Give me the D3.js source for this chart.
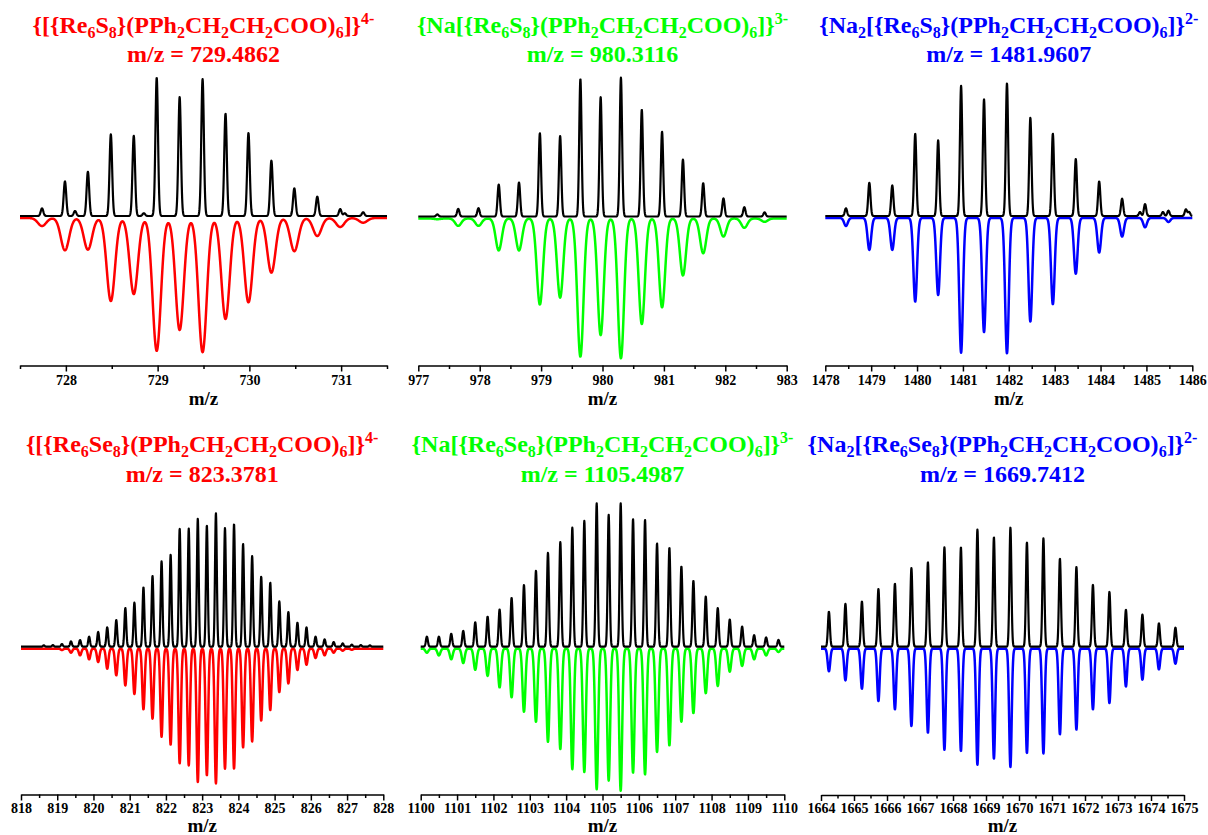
<!DOCTYPE html>
<html>
<head>
<meta charset="utf-8">
<script src="https://cdn.jsdelivr.net/npm/d3@7/dist/d3.min.js"></script>
<style>
  html, body { margin: 0; padding: 0; background: #fff; }
  svg { display: block; }
  text { font-family: "Liberation Serif", "Times New Roman", serif; font-weight: bold; }
</style>
</head>
<body>
<svg id="chart" width="1208" height="835"></svg>
<script>
// ---------------- DATA ----------------
const titles = [
  "{[{Re_6S_8}(PPh_2CH_2CH_2COO)_6]}^4-",
  "{Na[{Re_6S_8}(PPh_2CH_2CH_2COO)_6]}^3-",
  "{Na_2[{Re_6S_8}(PPh_2CH_2CH_2COO)_6]}^2-",
  "{[{Re_6Se_8}(PPh_2CH_2CH_2COO)_6]}^4-",
  "{Na[{Re_6Se_8}(PPh_2CH_2CH_2COO)_6]}^3-",
  "{Na_2[{Re_6Se_8}(PPh_2CH_2CH_2COO)_6]}^2-"
];
const mzLabels = ["m/z = 729.4862", "m/z = 980.3116", "m/z = 1481.9607",
                  "m/z = 823.3781", "m/z = 1105.4987", "m/z = 1669.7412"];
const axisTitle = "m/z";

// Panel 1: {[{Re6S8}(...)6]}4-
const s4ExpMz = [727.74, 727.99, 728.10, 728.24, 728.49, 728.74, 728.85, 728.99, 729.24, 729.49, 729.74, 729.99, 730.24, 730.49, 730.74, 730.99, 731.04, 731.24];
const s4Exp   = [5.5, 25, 3.6, 32, 59, 58, 2, 100, 86, 99, 74, 60, 40, 20, 14, 5, 2, 2.7];
const s4SimMz = [727.74, 727.99, 728.24, 728.49, 728.74, 728.99, 729.24, 729.49, 729.74, 729.99, 730.24, 730.49, 730.74, 730.99, 731.24];
const s4Sim   = [5.8, 23.4, 22.9, 60, 55, 96, 81, 97, 73, 61, 39.5, 24, 13, 6.5, 3.4];

// Panel 2: {Na[{Re6S8}(...)6]}3-
const s3Mz  = [977.31, 977.65, 977.98, 978.31, 978.64, 978.98, 979.31, 979.64, 979.97, 980.30, 980.64, 980.97, 981.31, 981.64, 981.97, 982.31, 982.64];
const s3Exp = [1.5, 5.5, 6, 23, 24.5, 60, 58, 99, 86, 100, 77, 61, 41, 24, 13, 6.7, 3];
const s3Sim = [0.5, 5.3, 5.3, 23, 23, 62, 57, 99.5, 84, 100.7, 76, 64, 41, 25, 13, 6.7, 2.4];

// Panel 3: {Na2[{Re6S8}(...)6]}2-
const s2ExpMz = [1478.45, 1478.96, 1479.46, 1479.96, 1480.46, 1480.96, 1481.46, 1481.96, 1482.47, 1482.96, 1483.46, 1483.97, 1484.47, 1484.86, 1484.97, 1485.36, 1485.48, 1485.86, 1485.93];
const s2Exp   = [5.8, 25, 23, 62, 57, 98, 88, 100, 74, 62, 43, 26, 13, 3, 9, 3, 4, 5, 3];
const s2SimMz = [1478.45, 1478.96, 1479.46, 1479.96, 1480.46, 1480.96, 1481.46, 1481.96, 1482.47, 1482.96, 1483.46, 1483.97, 1484.47, 1484.97, 1485.48];
const s2Sim   = [6, 24, 24, 63, 58, 101.5, 86, 102, 78, 65, 42, 26, 14, 7, 3];

// Panel 4: {[{Re6Se8}(...)6]}4-
const se4Mz  = [818.63, 818.88, 819.13, 819.38, 819.63, 819.88, 820.13, 820.38, 820.63, 820.88, 821.13, 821.38, 821.63, 821.88, 822.13, 822.38, 822.63, 822.88, 823.13, 823.38, 823.63, 823.88, 824.13, 824.38, 824.63, 824.88, 825.13, 825.38, 825.63, 825.88, 826.13, 826.38, 826.63, 826.88, 827.13, 827.38, 827.63];
const se4Exp = [1, 1.2, 2, 4, 5, 7.5, 11, 14.5, 20, 29, 33, 44.5, 53, 64, 69, 88.5, 88.5, 96, 91, 100, 89, 92, 77, 68, 52.5, 48, 34, 26, 18, 14.5, 7.5, 5.5, 3.5, 2.5, 1.5, 1.2, 1];
const se4Sim = [0, 0, 1, 3, 5, 8, 10, 15, 20, 27.5, 34, 45.5, 52.5, 66, 72, 86, 87.5, 100, 95, 101, 90, 90, 74, 69.5, 54, 46, 32.5, 26, 16, 12, 7, 5, 3, 1.5, 0.8, 0, 0];

// Panel 5: {Na[{Re6Se8}(...)6]}3-
const se3Mz  = [1100.17, 1100.50, 1100.84, 1101.17, 1101.50, 1101.84, 1102.17, 1102.50, 1102.84, 1103.17, 1103.50, 1103.84, 1104.17, 1104.50, 1104.84, 1105.17, 1105.50, 1105.84, 1106.17, 1106.50, 1106.84, 1107.17, 1107.50, 1107.84, 1108.17, 1108.50, 1108.84, 1109.17, 1109.50, 1109.84];
const se3Exp = [7, 7, 9, 11, 17, 21, 26, 34, 43, 53, 65.5, 73, 83, 87.7, 100, 92, 100, 89, 88.5, 72, 69, 56, 46, 35, 27, 19, 14, 8, 6.5, 4.7];
const se3Sim = [2.8, 4.7, 7.4, 10, 14.7, 19, 27, 34, 44, 51, 65, 70, 84, 86, 98, 92, 99, 86.5, 87.7, 72, 67.5, 51, 45, 31, 26, 16, 12, 7.4, 4.7, 2.3];

// Panel 6: {Na2[{Re6Se8}(...)6]}2-
const se2Mz  = [1664.24, 1664.74, 1665.24, 1665.74, 1666.24, 1666.74, 1667.24, 1667.74, 1668.24, 1668.74, 1669.24, 1669.74, 1670.24, 1670.74, 1671.24, 1671.74, 1672.24, 1672.74, 1673.24, 1673.74, 1674.24, 1674.74];
const se2Exp = [29.4, 36, 38, 48.5, 53, 66, 71, 83.5, 83.5, 98.5, 92, 100, 87.7, 91, 74, 67, 52, 46, 31, 27, 19.6, 16];
const se2Sim = [19, 26.6, 33.6, 44, 51, 65, 70.6, 85, 86, 97.5, 92.4, 99.4, 87.7, 88, 72, 68, 51, 45.6, 31.7, 26, 17.4, 12.6];

// x domains and tick values
const domains = [[727.5, 731.5], [977, 983], [1478, 1486], [818, 828], [1100, 1110], [1664, 1675]];
const majorTicks = [
  [728, 729, 730, 731],
  [977, 978, 979, 980, 981, 982, 983],
  [1478, 1479, 1480, 1481, 1482, 1483, 1484, 1485, 1486],
  [818, 819, 820, 821, 822, 823, 824, 825, 826, 827, 828],
  [1100, 1101, 1102, 1103, 1104, 1105, 1106, 1107, 1108, 1109, 1110],
  [1664, 1665, 1666, 1667, 1668, 1669, 1670, 1671, 1672, 1673, 1674, 1675]
];
const minorTicks = [
  [727.5, 728.5, 729.5, 730.5, 731.5],
  [977.5, 978.5, 979.5, 980.5, 981.5, 982.5],
  [1478.5, 1479.5, 1480.5, 1481.5, 1482.5, 1483.5, 1484.5, 1485.5],
  [818.5, 819.5, 820.5, 821.5, 822.5, 823.5, 824.5, 825.5, 826.5, 827.5],
  [1100.5, 1101.5, 1102.5, 1103.5, 1104.5, 1105.5, 1106.5, 1107.5, 1108.5, 1109.5],
  [1664.5, 1665.5, 1666.5, 1667.5, 1668.5, 1669.5, 1670.5, 1671.5, 1672.5, 1673.5, 1674.5]
];

const expSeries = [[s4ExpMz, s4Exp], [s3Mz, s3Exp], [s2ExpMz, s2Exp], [se4Mz, se4Exp], [se3Mz, se3Exp], [se2Mz, se2Exp]];
const simSeries = [[s4SimMz, s4Sim], [s3Mz, s3Sim], [s2SimMz, s2Sim], [se4Mz, se4Sim], [se3Mz, se3Sim], [se2Mz, se2Sim]];
const colors = ["#ff0000", "#00ff00", "#0000ff", "#ff0000", "#00ff00", "#0000ff"];

// ---------------- LAYOUT ----------------
const layout = [
  {x0: 20,    x1: 387,    axisY: 365.5, base: 216,   top: 77.7,  t1: 33,  t2: 62,  lab: 405, pad: 4, sExp: 0.014, sSim: 0.045},
  {x0: 418.3, x1: 786.7,  axisY: 365.5, base: 216.5, top: 77.7,  t1: 33,  t2: 62,  lab: 405, pad: 4, sExp: 0.019, sSim: 0.05},
  {x0: 825.3, x1: 1192.3, axisY: 365.5, base: 216,   top: 83.3,  t1: 33,  t2: 62,  lab: 405, pad: 4, sExp: 0.025, sSim: 0.04},
  {x0: 21,    x1: 383.3,  axisY: 794.5, base: 646.7, top: 513.3, t1: 452, t2: 482, lab: 832, pad: 2.5, sExp: 0.025, sSim: 0.034},
  {x0: 420.7, x1: 784.3,  axisY: 794.5, base: 646.7, top: 503.3, t1: 452, t2: 482, lab: 832, pad: 2.5, sExp: 0.027, sSim: 0.04},
  {x0: 821,   x1: 1184,   axisY: 795,   base: 646.7, top: 527.7, t1: 452, t2: 482, lab: 832, pad: 2.5, sExp: 0.03,  sSim: 0.038}
];

const svg = d3.select("#chart");

function profile(mzs, hs, sigma, x) {
  let s = 0;
  for (let i = 0; i < mzs.length; i++) {
    const d = x - mzs[i];
    if (Math.abs(d) < 8 * sigma) s += hs[i] * Math.exp(-d * d / (2 * sigma * sigma));
  }
  return s;
}

// parse "_x" = subscript char, "^..." = superscript rest
function drawTitle(g, str, cx, y, color) {
  const t = g.append("text").attr("x", cx).attr("y", y).attr("text-anchor", "middle")
    .attr("fill", color).style("font-size", "24px");
  const segs = [];
  let i = 0, buf = "";
  while (i < str.length) {
    const c = str[i];
    if (c === "_") {
      if (buf) { segs.push([buf, "n"]); buf = ""; }
      segs.push([str[i + 1], "sub"]); i += 2;
    } else if (c === "^") {
      if (buf) { segs.push([buf, "n"]); buf = ""; }
      segs.push([str.slice(i + 1), "sup"]); i = str.length;
    } else { buf += c; i++; }
  }
  if (buf) segs.push([buf, "n"]);
  let cur = 0;
  segs.forEach(([txt, type]) => {
    const target = type === "sub" ? 5 : type === "sup" ? -9 : 0;
    const ts = t.append("tspan").attr("dy", target - cur).text(txt);
    if (type !== "n") ts.style("font-size", "16px");
    cur = target;
  });
}

layout.forEach((L, p) => {
  const g = svg.append("g");
  const x = d3.scaleLinear().domain(domains[p]).range([L.x0, L.x1]);
  const y = d3.scaleLinear().domain([0, 100]).range([L.base, L.top]);
  const ySim = d3.scaleLinear().domain([0, -100]).range([L.base + 2, L.base + 2 + (L.base - L.top)]);

  const [d0, d1] = domains[p];
  const n = Math.round((L.x1 - L.x0) * 5);
  const xs = d3.range(n + 1).map(k => d0 + (d1 - d0) * k / n);

  const simPts = xs.map(v => [v, -profile(simSeries[p][0], simSeries[p][1], L.sSim, v)]);
  const expPts = xs.map(v => [v, profile(expSeries[p][0], expSeries[p][1], L.sExp, v)]);

  g.append("path").datum(simPts)
    .attr("d", d3.line().x(d => x(d[0])).y(d => ySim(d[1])))
    .attr("fill", "none").attr("stroke", colors[p]).attr("stroke-width", 2.5)
    .attr("stroke-linejoin", "round");
  g.append("path").datum(expPts)
    .attr("d", d3.line().x(d => x(d[0])).y(d => y(d[1])))
    .attr("fill", "none").attr("stroke", "#000").attr("stroke-width", 2.2)
    .attr("stroke-linejoin", "round");

  // axes
  const ax = g.append("g").attr("transform", `translate(0,${L.axisY})`)
    .call(d3.axisBottom(x).tickValues(majorTicks[p]).tickSize(6).tickSizeOuter(0)
      .tickPadding(L.pad).tickFormat(d3.format("d")));
  ax.attr("font-size", 14).attr("font-family", '"Liberation Serif", "Times New Roman", serif');
  ax.select(".domain").attr("stroke-width", 1.6).attr("stroke", "#000");
  ax.selectAll(".tick line").attr("stroke-width", 1.5).attr("stroke", "#000");
  ax.selectAll(".tick text").attr("fill", "#000")
    .style("font-weight", "bold").style("font-size", "14px");
  const mx = g.append("g").attr("transform", `translate(0,${L.axisY})`)
    .call(d3.axisBottom(x).tickValues(minorTicks[p]).tickSize(3.5).tickSizeOuter(0).tickFormat(""));
  mx.select(".domain").remove();
  mx.selectAll(".tick text").remove();
  mx.selectAll(".tick line").attr("stroke-width", 1.5).attr("stroke", "#000");

  g.append("text").attr("x", (L.x0 + L.x1) / 2).attr("y", L.lab).attr("text-anchor", "middle")
    .attr("fill", "#000").style("font-size", "19px").text(axisTitle);

  const cx = (L.x0 + L.x1) / 2;
  drawTitle(g, titles[p], cx, L.t1, colors[p]);
  g.append("text").attr("x", cx).attr("y", L.t2).attr("text-anchor", "middle")
    .attr("fill", colors[p]).style("font-size", "24px").text(mzLabels[p]);
});
</script>
</body>
</html>
